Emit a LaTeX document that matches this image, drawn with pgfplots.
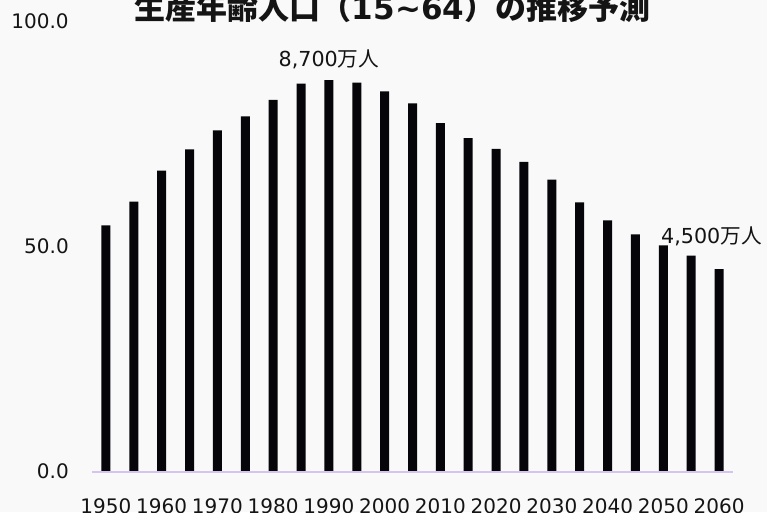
\documentclass[border=0pt]{standalone}
\usepackage{fontspec}
\setmainfont{DejaVu Sans}
\newfontfamily\cjk{Noto Sans CJK JP}
\usepackage{pgfplots}
\usepackage{pgfplotstable}
\pgfplotsset{compat=1.18}

\definecolor{bg}{RGB}{249,249,249}
\definecolor{ink}{RGB}{20,20,20}
\definecolor{axisrule}{RGB}{214,196,240}
\definecolor{barcol}{RGB}{5,5,10}

% working-age population (15-64), millions
\pgfplotstableread{
year pop
1950 54.7
1955 60.0
1960 66.9
1965 71.6
1970 75.8
1975 78.9
1980 82.6
1985 86.2
1990 87.0
1995 86.4
2000 84.5
2005 81.8
2010 77.4
2015 74.1
2020 71.7
2025 68.8
2030 64.9
2035 59.8
2040 55.8
2045 52.7
2050 50.3
2055 48.0
2060 45.0
}\workingage

\begin{document}
\begin{tikzpicture}
\useasboundingbox (0,0) rectangle (575.25pt,384pt);
\clip (0,0) rectangle (575.25pt,384pt);
\fill[bg] (0,0) rectangle (575.25pt,384pt);

\node[anchor=base, text=ink, inner sep=0pt, font=\fontsize{23.25pt}{28pt}\selectfont]
  at (294.375pt,369.75pt)
  {{\cjk\bfseries 生産年齢人口（}{\bfseries 15\textasciitilde 64}{\cjk\bfseries ）の推移予測}};

\begin{axis}[
  at={(69pt,30.225pt)}, anchor=south west,
  scale only axis, width=480.75pt, height=337.65pt,
  xmin=1947.5, xmax=2062.5, ymin=0, ymax=100,
  ybar, bar width=6.75pt,
  axis line style={draw=none}, tick style={draw=none},
  xtick={1950,1960,1970,1980,1990,2000,2010,2020,2030,2040,2050,2060},
  xticklabels={1950,1960,1970,1980,1990,2000,2010,2020,2030,2040,2050,2060},
  ytick={0,50,100}, yticklabels={0.0,50.0,100.0},
  ticklabel style={font=\fontsize{15pt}{18pt}\selectfont, text=ink, inner sep=0pt},
  xticklabel style={anchor=north, yshift=-15.9pt},
  yticklabel style={anchor=east, xshift=-17.25pt},
  clip=false,
]
\addplot[fill=barcol, draw=none] table[x=year, y=pop] {\workingage};
\draw[axisrule, line width=1.5pt] (axis cs:1947.5,0) -- (axis cs:2062.5,0);
\node[anchor=base, text=ink, inner sep=0pt, yshift=10.1pt, font=\fontsize{15.5pt}{18pt}\selectfont]
  at (axis cs:1990,87) {8,700{\cjk 万人}};
\node[anchor=base, text=ink, inner sep=0pt, yshift=19.5pt, xshift=-5.7pt, font=\fontsize{15.5pt}{18pt}\selectfont]
  at (axis cs:2060,45) {4,500{\cjk 万人}};
\end{axis}
\end{tikzpicture}
\end{document}
